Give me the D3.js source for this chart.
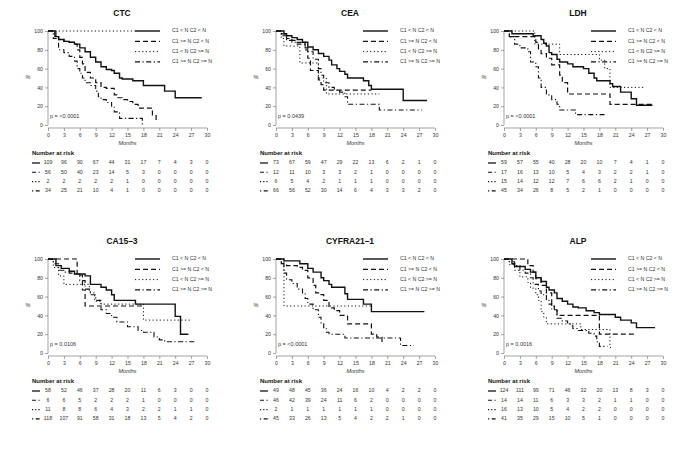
<!DOCTYPE html>
<html><head><meta charset="utf-8">
<script src="https://cdn.jsdelivr.net/npm/d3@7"></script>
<style>body{margin:0;background:#fff}svg{display:block}text{font-family:"Liberation Sans",Arial,sans-serif;fill:#333}</style>
</head><body><svg id="c" width="685" height="456"></svg>
<script>
// ---------- DATA ----------
const titles = ["CTC","CEA","LDH","CA15\u20133","CYFRA21\u20131","ALP"];
const pValues = ["p = <0.0001","p = 0.0439","p = <0.0001","p = 0.0106","p = <0.0001","p = 0.0016"];
const legendLabels = ["C1 < N C2 < N","C1 >= N C2 < N","C1 < N C2 >= N","C1 >= N C2 >= N"];
const monthTicks = [0,3,6,9,12,15,18,21,24,27,30];
const pctTicks = [0,20,40,60,80,100];

// survival step curves: [month, % after step]
const ctcA = [[0,100],[1.3,94],[2,91],[3,89],[4,88],[5,86],[6,82],[7,78],[8,72],[9,67],[10,62],[11,59],[12,58],[12.5,55],[13.5,50],[14,49],[16,47],[18,42],[22,36],[24,29],[29,29]];
const ctcB = [[0,100],[1.5,94],[2,91],[3,89],[4,88],[5,86],[5.5,80],[6,72],[6.5,65],[7,56],[8,50],[9,45],[10,40],[11,39],[12.5,32],[13,29],[14,27],[15,25],[16,22],[17,18],[19.7,10],[20.4,3],[20.5,3]];
const ctcC = [[0,100],[16.4,100]];
const ctcD = [[0,100],[1,92],[2,80],[3,77],[4,73],[5,68],[5.5,60],[6,55],[6.5,50],[7,45],[8,42],[9,36],[9.5,30],[10,27],[11,24],[12,20],[12.5,14],[13.5,7],[17.8,0]];

const ceaA = [[0,100],[1.5,97],[2,95],[3,93],[4,91],[5,88],[6,83],[7,80],[8,76],[9,73],[10,69],[10.5,64],[11.5,60],[12,57],[13,54],[13.5,50],[16.5,47],[17.5,42],[18,38],[24,26],[28.5,26]];
const ceaB = [[0,100],[1,97],[2,92],[3,90],[4,88],[5.5,80],[6,71],[6.5,58],[7.5,58],[8,48],[8.5,43],[9,37],[18,37]];
const ceaC = [[0,100],[1,92],[1.5,84],[4.5,66],[6.5,66],[8,50],[9.5,33],[19.5,33]];
const ceaD = [[0,100],[1,95],[2,90],[3,88],[4,86],[5.5,82],[6,78],[7,70],[8,60],[8.5,53],[9,45],[10,40],[11,37],[12,35],[13,30],[13.5,22],[19.5,16],[27.5,16]];

const ldhA = [[0,100],[1.5,97],[5.5,95],[7,91],[7.5,87],[8,84],[8.5,77],[9,75],[10,70],[10.5,67],[12,65],[13,62],[15,60],[16,55],[17,50],[17.5,47],[20,44],[20.5,41],[22,35],[24,28],[25,21],[28,21]];
const ldhB = [[0,100],[1,94],[6,88],[6.5,81],[7,76],[8,71],[9,64],[10.5,53],[11,45],[12,33],[20,22],[28,22]];
const ldhC = [[0,100],[5.8,86],[10.5,75],[18,69],[19,60],[20,40],[26.5,40]];
const ldhD = [[0,100],[1,94],[2,86],[3,82],[4.5,78],[5,67],[6,62],[6.5,50],[7,40],[8,32],[9,27],[10,22],[10.5,16],[13.5,11],[19,11]];

const caA = [[0,100],[1.5,93],[2.5,90],[4,87],[5,84],[7,82],[8,73],[10,70],[11,67],[12,62],[12.5,56],[16.5,52],[24,39],[25,20],[26.5,20]];
const caB = [[0,100],[5.5,83],[6.5,67],[7,50],[18,50]];
const caC = [[0,100],[1,91],[2,82],[3,73],[7.8,64],[8.8,55],[10,52],[18,35],[27,35]];
const caD = [[0,100],[1,95],[2,88],[3,86],[4,85],[5,84],[6,77],[7,68],[8,62],[9,56],[10,46],[11,42],[12,38],[13,33],[15,28],[17,24],[18,22],[20,17],[21,14],[22,12],[28,12]];

const cyA = [[0,100],[1.5,98],[4.5,95],[6,90],[7,86],[8.5,80],[9,77],[10,73],[10.5,70],[13,63],[13.5,57],[16.5,52],[18,44],[28,44]];
const cyB = [[0,100],[1,95],[2,93],[4,91],[5,88],[6,80],[7,72],[7.5,64],[8.5,62],[9,56],[10,48],[11,45],[12,40],[13.5,31],[18,20],[19,17],[20,10],[20.1,10]];
const cyC = [[0,100],[1.5,50],[18,50]];
const cyD = [[0,100],[1,95],[1.5,85],[2,78],[3,74],[4,68],[5,63],[5.5,58],[6,52],[7,46],[8,38],[8.5,32],[9,27],[9.5,22],[10,20],[13,16],[23.5,8],[26,8]];

const alpA = [[0,100],[1.5,95],[2,92],[4,89],[5,86],[6,80],[7,76],[8,70],[8.5,67],[9.5,64],[10,58],[11,55],[12,52],[13,49],[14,48],[15.5,45],[17,43],[18,41],[21,38],[22,35],[24,32],[25,27],[28.5,27]];
const alpB = [[0,100],[4.5,93],[5.5,86],[6,79],[7,72],[8,64],[9,50],[9.5,45],[10,40],[18,20],[25,20]];
const alpC = [[0,100],[1,94],[2,88],[3,81],[4.5,75],[5,69],[6,62],[6.5,56],[7,44],[7.5,38],[8,31],[14.5,25],[20,6],[20.2,6]];
const alpD = [[0,100],[1,97],[2,93],[3,88],[4,85],[5,80],[5.5,73],[6.5,66],[7,62],[8,57],[8.5,52],[9,46],[10,37],[11,34],[12,31],[12.5,29],[13,26],[14,24],[16,21],[17,18],[17.5,12],[18,7],[19.5,7]];

// numbers at risk (rows per group, columns per month tick)
const ctcRisk = [[109,96,90,67,44,31,17,7,4,3,0],[56,50,40,23,14,5,3,0,0,0,0],[2,2,2,2,2,1,0,0,0,0,0],[34,25,21,10,4,1,0,0,0,0,0]];
const ceaRisk = [[73,67,59,47,29,22,13,6,2,1,0],[12,11,10,3,3,2,1,0,0,0,0],[6,5,4,2,1,1,1,0,0,0,0],[66,56,52,30,14,6,4,3,3,2,0]];
const ldhRisk = [[59,57,55,40,28,20,10,7,4,1,0],[17,16,13,10,5,4,3,2,2,1,0],[15,14,12,12,7,6,6,2,1,0,0],[45,34,26,8,5,2,1,0,0,0,0]];
const caRisk = [[58,52,46,37,28,20,11,6,3,0,0],[6,6,5,2,2,2,1,0,0,0,0],[11,8,8,6,4,3,2,2,1,1,0],[118,107,91,58,31,18,13,5,4,2,0]];
const cyRisk = [[49,48,45,36,24,16,10,4,2,2,0],[46,42,39,24,11,6,2,0,0,0,0],[2,1,1,1,1,1,1,0,0,0,0],[45,33,26,13,5,4,2,2,1,0,0]];
const alpRisk = [[124,111,99,71,46,32,20,13,8,3,0],[14,14,11,6,3,3,2,1,1,0,0],[16,13,10,5,4,2,2,0,0,0,0],[41,35,29,15,10,5,1,0,0,0,0]];

const curves = [[ctcA,ctcB,ctcC,ctcD],[ceaA,ceaB,ceaC,ceaD],[ldhA,ldhB,ldhC,ldhD],[caA,caB,caC,caD],[cyA,cyB,cyC,cyD],[alpA,alpB,alpC,alpD]];
const risks = [ctcRisk,ceaRisk,ldhRisk,caRisk,cyRisk,alpRisk];

// ---------- STYLE ----------
const styles = [
  {w:1.4, dash:null},
  {w:1.2, dash:"5,3"},
  {w:1.0, dash:"1.2,2.4"},
  {w:1.1, dash:"5,2.5,1.2,2.5"}
];
const symDash = [null,"4,2.5,1.2,2.5","1.2,2","1.2,2.5,4,2.5"];

const svg = d3.select("#c");
const W = 159, H = 94;
const x = d3.scaleLinear().domain([0,30]).range([0,W]);
const y = d3.scaleLinear().domain([0,100]).range([H,0]);

titles.forEach((t,i)=>{
  const col = i%3, row = Math.floor(i/3);
  const g = svg.append("g").attr("transform",`translate(${48+228*col},${31+228*row})`);
  g.append("text").attr("x",74).attr("y",-15).attr("text-anchor","middle")
    .style("font-size","8.5px").style("font-weight","bold").style("fill","#111").text(t);
  // axes
  const ya = g.append("g").call(d3.axisLeft(y).tickValues(pctTicks).tickSize(3).tickPadding(2));
  const xa = g.append("g").attr("transform",`translate(0,${H+3})`).call(d3.axisBottom(x).tickValues(monthTicks).tickSize(3).tickPadding(2));
  [ya,xa].forEach(a=>{a.selectAll("text").style("font-size","5.2px").style("font-family","Liberation Sans, Arial, sans-serif").attr("fill","#444");
    a.selectAll("line,path").attr("stroke","#666").attr("stroke-width",0.6);});
  ya.select(".domain").attr("d",`M0,${H}V0`);
  xa.select(".domain").attr("d",`M0,0H${W}`);
  g.append("text").attr("x",-20).attr("y",H/2).attr("text-anchor","middle").attr("dominant-baseline","middle")
    .style("font-size","5.5px").text("%");
  g.append("text").attr("x",W/2).attr("y",H+20).attr("text-anchor","middle")
    .style("font-size","5.5px").style("font-style","italic").text("Months");
  g.append("text").attr("x",2).attr("y",H-7).style("font-size","5.5px").text(pValues[i]);
  // curves
  const line = d3.line().x(d=>x(d[0])).y(d=>y(d[1])).curve(d3.curveStepAfter);
  curves[i].forEach((c,k)=>{
    g.append("path").attr("d",line(c)).attr("fill","none").attr("stroke","#111")
      .attr("stroke-width",styles[k].w).attr("stroke-dasharray",styles[k].dash);
  });
  // legend
  legendLabels.forEach((l,k)=>{
    const ly = k*10.3;
    g.append("line").attr("x1",87).attr("x2",112).attr("y1",ly).attr("y2",ly).attr("stroke","#111")
      .attr("stroke-width",styles[k].w).attr("stroke-dasharray",styles[k].dash);
    g.append("text").attr("x",124).attr("y",ly).attr("dominant-baseline","middle").style("font-size","5.2px").text(l);
  });
  // number at risk
  g.append("text").attr("x",-16).attr("y",H+30).style("font-size","6px").style("font-weight","bold").style("fill","#111").text("Number at risk");
  risks[i].forEach((r,k)=>{
    const ry = H+38+k*9.3;
    g.append("line").attr("x1",-16).attr("x2",-8).attr("y1",ry).attr("y2",ry).attr("stroke","#111")
      .attr("stroke-width",k===0?1.3:1.1).attr("stroke-dasharray",symDash[k]);
    r.forEach((v,j)=>{
      g.append("text").attr("x",x(monthTicks[j])).attr("y",ry).attr("text-anchor","middle").attr("dominant-baseline","middle")
        .style("font-size","5.2px").text(v);
    });
  });
});
</script></body></html>
